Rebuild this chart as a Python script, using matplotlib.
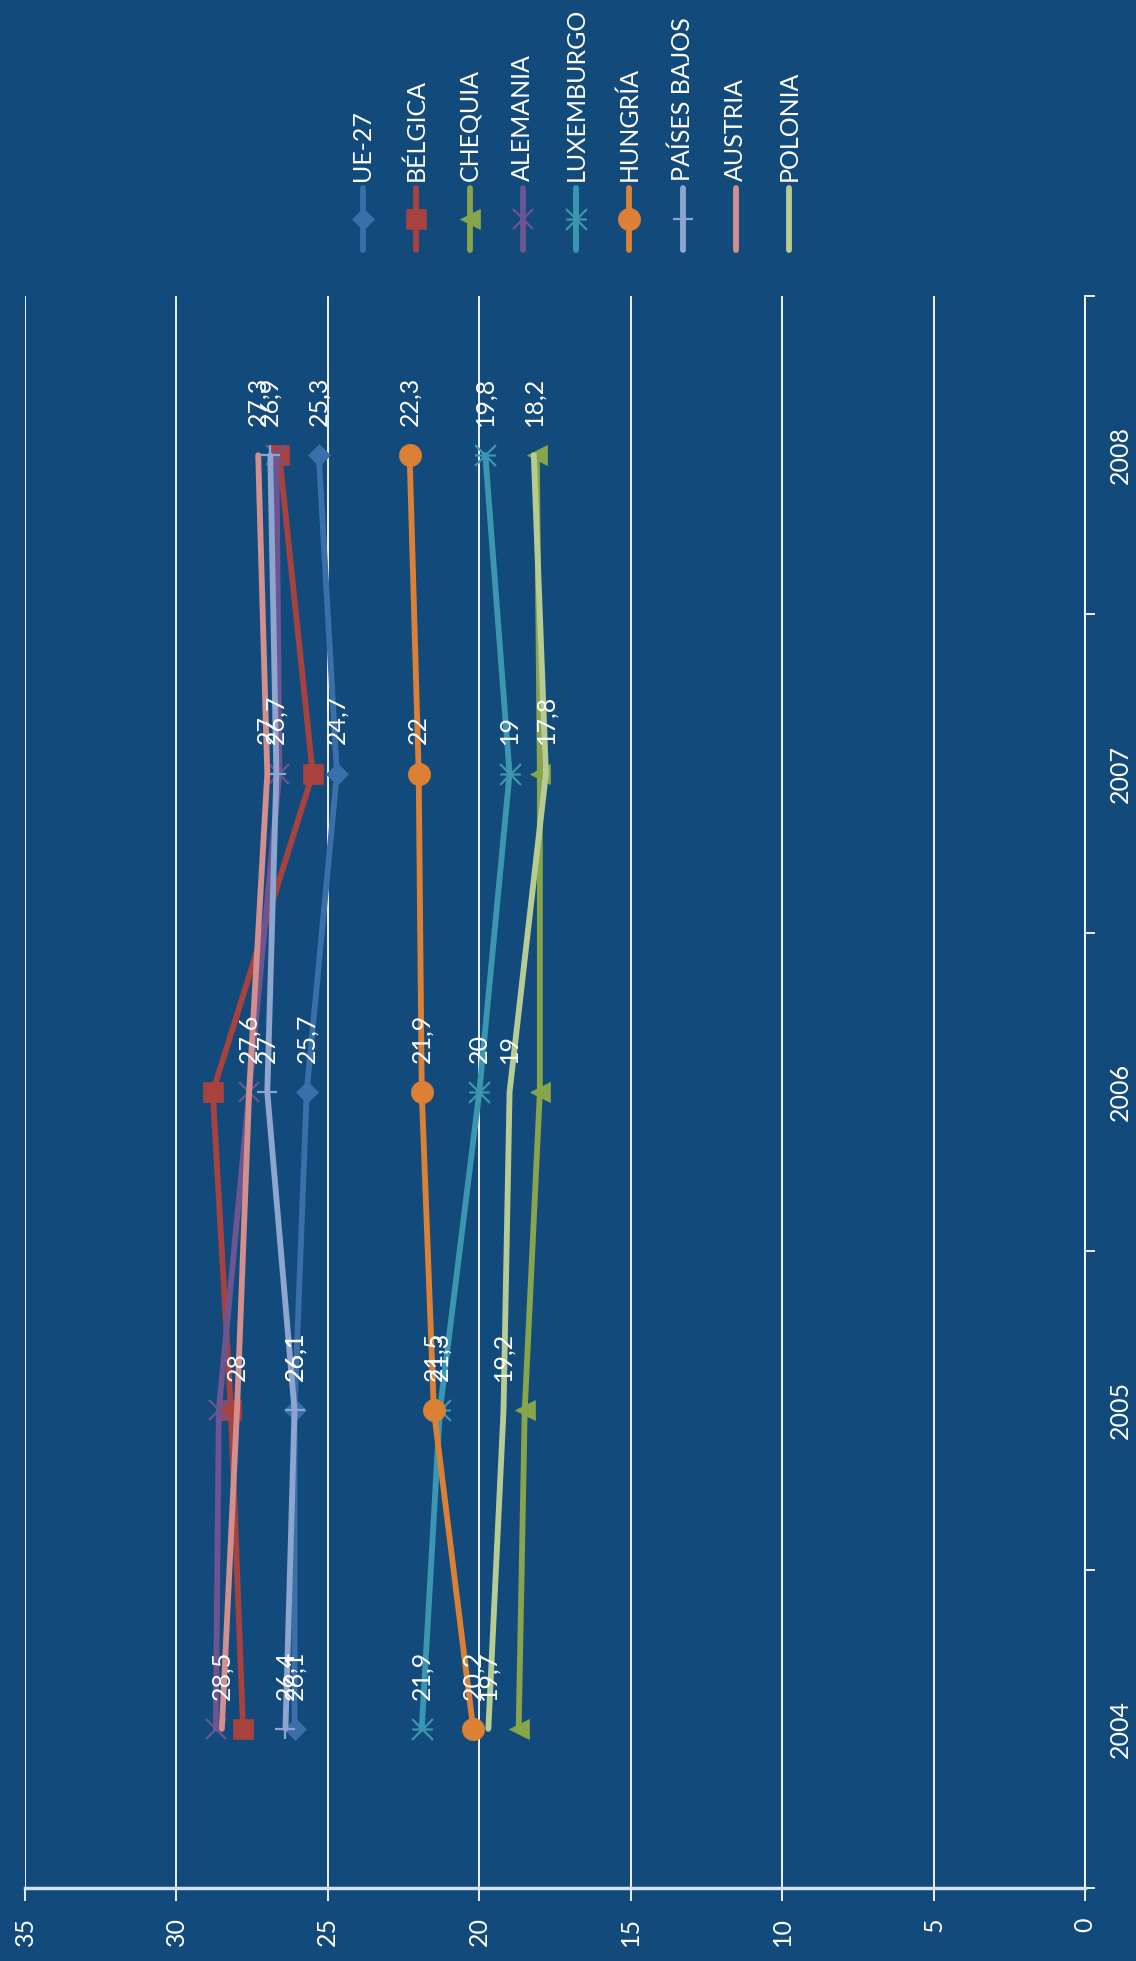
import matplotlib.pyplot as plt
from matplotlib.lines import Line2D
from matplotlib.path import Path

plt.rcParams['font.family'] = ['Lato', 'DejaVu Sans']

years = ['2004', '2005', '2006', '2007', '2008']
series_names = ['UE-27', 'BÉLGICA', 'CHEQUIA', 'ALEMANIA', 'LUXEMBURGO',
                'HUNGRÍA', 'PAÍSES BAJOS', 'AUSTRIA', 'POLONIA']

ue27 = [26.1, 26.1, 25.7, 24.7, 25.3]
belgica = [27.8, 28.2, 28.8, 25.5, 26.6]
chequia = [18.7, 18.5, 18.0, 18.0, 18.1]
alemania = [28.7, 28.6, 27.6, 26.6, 26.7]
luxemburgo = [21.9, 21.3, 20.0, 19.0, 19.8]
hungria = [20.2, 21.5, 21.9, 22.0, 22.3]
paises_bajos = [26.4, 26.1, 27.0, 26.7, 26.9]
austria = [28.5, 28.0, 27.6, 27.0, 27.3]
polonia = [19.7, 19.2, 19.0, 17.8, 18.2]
values = [ue27, belgica, chequia, alemania, luxemburgo, hungria,
          paises_bajos, austria, polonia]
# only some series carry data labels in the original
labelled = [True, False, False, False, True, True, True, True, True]

bg = '#134a7c'
colors = ['#3a6fa9', '#a8423f', '#87a54a', '#6c5590', '#3b97b1',
          '#dc8036', '#8ea6cf', '#d38e8e', '#b7cc93']

# asterisk: X plus a bar (bar is horizontal because the chart is turned)
star = Path([(-1, -1), (1, 1), (-1, 1), (1, -1), (-1, 0), (1, 0)],
            [Path.MOVETO, Path.LINETO] * 3)
markers = ['D', 's', '<', 'x', star, 'o', '+', None, None]
msizes = [11, 15, 15, 14, 15, 16, 15, 0, 0]

W, H = 1136, 1961
fig = plt.figure(figsize=(W / 100, H / 100), dpi=100, facecolor=bg)
ax = fig.add_axes([25 / W, 1 - 1888 / H, (1085 - 25) / W, (1888 - 296) / H])
ax.set_facecolor(bg)

ypos = list(range(len(years)))
for i, name in enumerate(series_names):
    m = markers[i]
    filled = m in ('D', 's', '<', 'o')
    ax.plot(values[i], ypos, color=colors[i], lw=4.2, solid_capstyle='round',
            marker=m, ms=msizes[i],
            mfc=colors[i] if filled else 'none', mec=colors[i],
            mew=0.5 if filled else 1.6, zorder=3 + i)

for i, name in enumerate(series_names):
    if not labelled[i]:
        continue
    for j, v in enumerate(values[i]):
        txt = ('%g' % v).replace('.', ',')
        ax.annotate(txt, (v, j), xytext=(0, 21), textcoords='offset points',
                    rotation=90, ha='center', va='bottom', color='white',
                    fontsize=18, zorder=20)

ax.set_xlim(35, 0)
ax.set_ylim(-0.5, len(years) - 0.5)

ax.set_xticks(range(0, 36, 5))
ax.grid(axis='x', color='white', lw=1.3, zorder=1)
ax.tick_params(axis='x', colors='white', direction='out', length=9, width=1.3,
               labelsize=18, labelrotation=90, pad=12)
for lab in ax.get_xticklabels():
    lab.set_va('top')

ax.yaxis.tick_right()
ax.set_yticks([k - 0.5 for k in range(len(years) + 1)])
ax.set_yticklabels([])
ax.set_yticks(ypos, minor=True)
ax.set_yticklabels(years, minor=True, rotation=90, va='center')
ax.tick_params(axis='y', which='major', colors='white', direction='out',
               length=7, width=1.3)
ax.tick_params(axis='y', which='minor', colors='white', length=0,
               labelsize=18, pad=17)

for s in ['top', 'left']:
    ax.spines[s].set_visible(False)
ax.spines['right'].set_color('white')
ax.spines['right'].set_linewidth(1.3)
ax.spines['bottom'].set_color('#d5e2ef')
ax.spines['bottom'].set_linewidth(2.5)

# legend, laid out along the top as in the turned chart
for i, name in enumerate(series_names):
    x = (363 + 53.25 * i) / W
    m = markers[i]
    filled = m in ('D', 's', '<', 'o')
    fig.add_artist(Line2D([x, x], [1 - 250 / H, 1 - 188 / H],
                          transform=fig.transFigure, color=colors[i], lw=4.2,
                          solid_capstyle='round'))
    if m is not None:
        fig.add_artist(Line2D([x], [1 - 219 / H], transform=fig.transFigure,
                              marker=m, ms=msizes[i], color=colors[i],
                              mfc=colors[i] if filled else 'none',
                              mec=colors[i], mew=0.5 if filled else 1.6))
    fig.text(x, 1 - 181 / H, name, rotation=90, ha='center', va='bottom',
             color='white', fontsize=18)

fig.savefig('out.png', dpi=100, facecolor=bg)
